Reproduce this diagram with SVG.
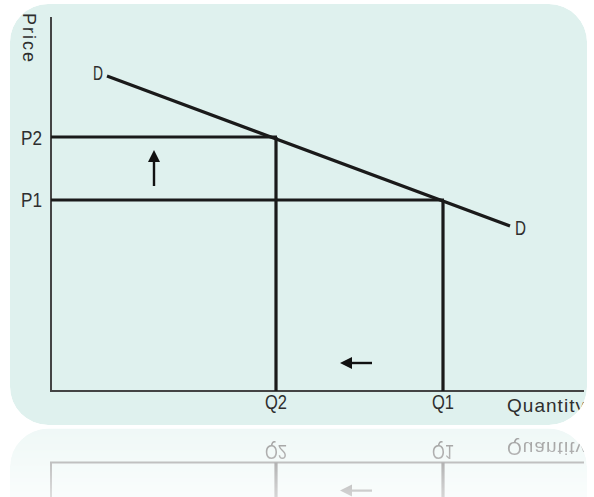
<svg xmlns="http://www.w3.org/2000/svg" xmlns:xlink="http://www.w3.org/1999/xlink" width="594" height="497" viewBox="0 0 594 497">
  <style>
    .lbl { font-family: "Liberation Sans", Arial, sans-serif; fill: #2e2e2e; }
    .axis { stroke: #444; stroke-width: 2; fill: none; }
    .thick { stroke: #1a1a1a; stroke-width: 3.2; fill: none; stroke-linecap: butt; }
    .arr { stroke: #111; stroke-width: 2.4; fill: none; }
  </style>
  <defs>
    <clipPath id="boxclip">
      <rect x="10" y="4" width="577" height="421" rx="38" ry="38"/>
    </clipPath>
    <marker id="ah" viewBox="0 0 12 12" markerWidth="12" markerHeight="13" refX="0" refY="6" orient="auto" markerUnits="userSpaceOnUse">
      <path d="M0,0 L12,6 L0,12 Z" fill="#111"/>
    </marker>
    <linearGradient id="fade" gradientUnits="userSpaceOnUse" x1="0" y1="427" x2="0" y2="497">
      <stop offset="0" stop-color="#fff" stop-opacity="0.5"/>
      <stop offset="1" stop-color="#fff" stop-opacity="0.18"/>
    </linearGradient>
    <mask id="refmask" maskUnits="userSpaceOnUse" x="0" y="426" width="594" height="71">
      <rect x="0" y="426" width="594" height="71" fill="url(#fade)"/>
    </mask>
    <filter id="soft" x="-5%" y="-5%" width="110%" height="110%">
      <feGaussianBlur stdDeviation="0.6"/>
    </filter>
  </defs>

  <g id="diagram" clip-path="url(#boxclip)">
    <rect id="panel" x="10" y="4" width="577" height="421" rx="38" ry="38" fill="#dff1ee"/>

    <g id="axes">
      <line class="axis" x1="51" y1="17" x2="51" y2="391"/>
      <line class="axis" x1="50" y1="391" x2="584" y2="391"/>
    </g>

    <g id="connectors">
      <line id="demand" class="thick" x1="107" y1="76" x2="510" y2="226"/>
      <line id="p2-line" class="thick" x1="51" y1="137" x2="277" y2="137"/>
      <line id="p1-line" class="thick" x1="51" y1="200" x2="444" y2="200"/>
      <line id="q2-line" class="thick" x1="276" y1="137" x2="276" y2="391"/>
      <line id="q1-line" class="thick" x1="443" y1="200" x2="443" y2="391"/>
      <line id="up-arrow" class="arr" x1="154" y1="186" x2="154" y2="162" marker-end="url(#ah)"/>
      <line id="left-arrow" class="arr" x1="372" y1="363" x2="352" y2="363" marker-end="url(#ah)"/>
    </g>

    <g id="labels">
      <text class="lbl" transform="translate(23,13) rotate(90)" font-size="18" textLength="49">Price</text>
      <text class="lbl" x="93" y="80" font-size="21" textLength="10" lengthAdjust="spacingAndGlyphs">D</text>
      <text class="lbl" x="515" y="235" font-size="21" textLength="11" lengthAdjust="spacingAndGlyphs">D</text>
      <text class="lbl" x="21" y="145" font-size="19.5" textLength="21" lengthAdjust="spacingAndGlyphs">P2</text>
      <text class="lbl" x="21" y="207" font-size="19.5" textLength="21" lengthAdjust="spacingAndGlyphs">P1</text>
      <text class="lbl" x="265" y="409" font-size="19.5" textLength="22" lengthAdjust="spacingAndGlyphs">Q2</text>
      <text class="lbl" x="432" y="409" font-size="19.5" textLength="22" lengthAdjust="spacingAndGlyphs">Q1</text>
      <text class="lbl" x="507" y="412" font-size="19" textLength="78">Quantity</text>
    </g>
  </g>

  <g id="reflection" mask="url(#refmask)" filter="url(#soft)">
    <use xlink:href="#diagram" href="#diagram" transform="translate(0,853.6) scale(1,-1)"/>
  </g>
</svg>
